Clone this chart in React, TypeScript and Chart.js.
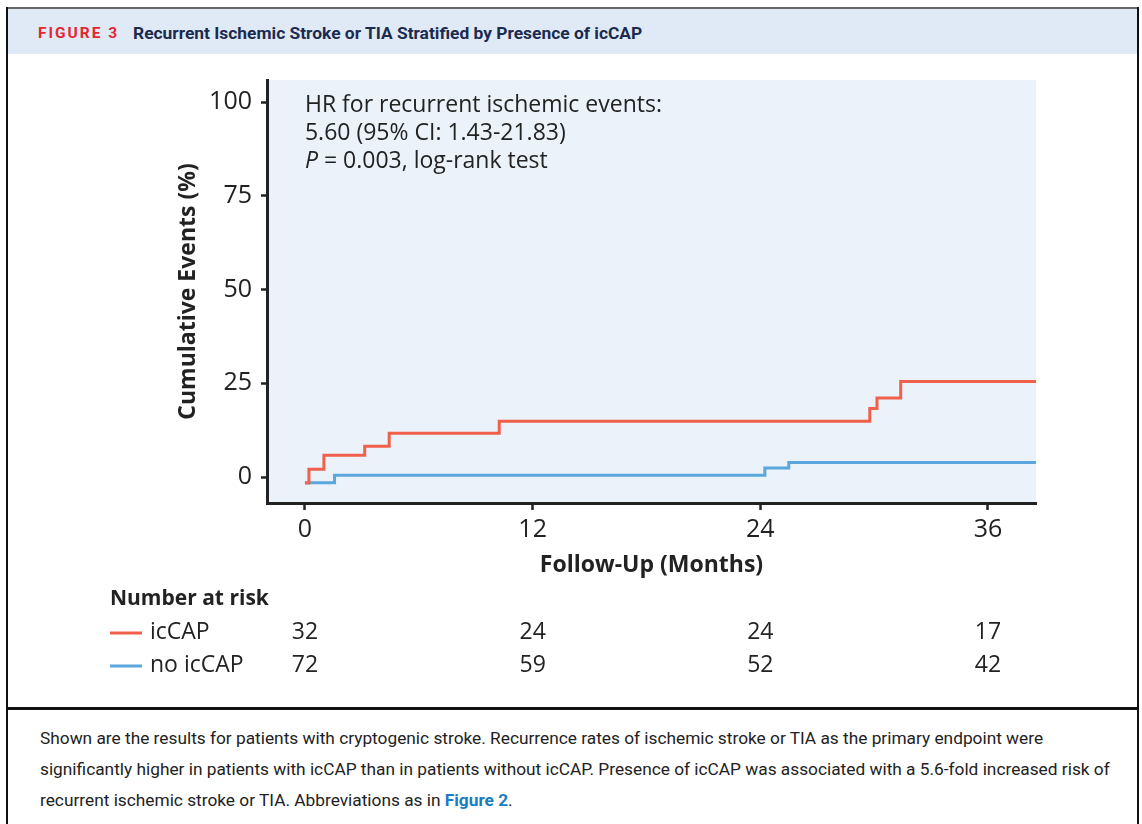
import React, { useEffect, useRef } from "react";
import { Chart, registerables } from "chart.js";

Chart.register(...registerables);

// ---------- data ----------
const xTicks = [0, 12, 24, 36];
const yTicks = [0, 25, 50, 75, 100];
const icCapTimes = [0, 0.21, 1.0, 3.15, 4.44, 10.24, 29.77, 30.15, 31.4, 38.53];
const icCapValues = [-1.6, 2.05, 5.8, 8.2, 11.65, 14.85, 18.3, 21.1, 25.5, 25.5];
const noIcCapTimes = [0, 1.56, 24.24, 25.5, 38.53];
const noIcCapValues = [-1.5, 0.45, 2.4, 3.9, 3.9];
const riskTimes = [0, 12, 24, 36];
const riskIcCap = [32, 24, 24, 17];
const riskNoIcCap = [72, 59, 52, 42];
const seriesNames = ["icCAP", "no icCAP"];
const annotationLine1 = "HR for recurrent ischemic events:";
const annotationLine2 = "5.60 (95% CI: 1.43-21.83)";
const annotationLine3a = "P";
const annotationLine3b = " = 0.003, log-rank test";

const RED = "#f0604a";
const BLUE = "#5ba6dc";
const INK = "#222222";
const FONT = "'Open Sans', 'Noto Sans', sans-serif";

const toPoints = (xs: number[], ys: number[]) => xs.map((x, i) => ({ x, y: ys[i] }));

const bgPlugin = {
  id: "plotBg",
  beforeDraw(chart: any) {
    const { ctx, chartArea } = chart;
    ctx.save();
    ctx.fillStyle = "#ebf2fa";
    ctx.fillRect(chartArea.left, chartArea.top, chartArea.right - chartArea.left, chartArea.bottom - chartArea.top);
    ctx.restore();
  },
};

const textPlugin = {
  id: "texts",
  afterDraw(chart: any) {
    const { ctx, chartArea } = chart;
    const xs = chart.scales.x;
    ctx.save();
    ctx.fillStyle = INK;
    ctx.textBaseline = "middle";
    ctx.textAlign = "left";
    // annotation
    const ax = xs.getPixelForValue(0);
    const ay = chartArea.top + 25;
    ctx.font = `23px ${FONT}`;
    ctx.fillText(annotationLine1, ax, ay);
    ctx.fillText(annotationLine2, ax, ay + 28);
    ctx.font = `italic 23px ${FONT}`;
    ctx.fillText(annotationLine3a, ax, ay + 56);
    const pw = ctx.measureText(annotationLine3a).width;
    ctx.font = `23px ${FONT}`;
    ctx.fillText(annotationLine3b, ax + pw, ay + 56);

    // number at risk table
    const tLeft = 110;
    const headY = 549;
    const rowYs = [582, 615];
    ctx.font = `bold 21px ${FONT}`;
    ctx.fillText("Number at risk", tLeft, headY);
    const colors = [RED, BLUE];
    const rows = [riskIcCap, riskNoIcCap];
    rows.forEach((row, r) => {
      const y = rowYs[r];
      ctx.strokeStyle = colors[r];
      ctx.lineWidth = 3;
      ctx.beginPath();
      ctx.moveTo(tLeft, y + 1);
      ctx.lineTo(tLeft + 32, y + 1);
      ctx.stroke();
      ctx.fillStyle = INK;
      ctx.textAlign = "left";
      ctx.font = `23px ${FONT}`;
      ctx.fillText(seriesNames[r], tLeft + 40, y);
      ctx.textAlign = "center";
      row.forEach((v, i) => {
        ctx.fillText(String(v), xs.getPixelForValue(riskTimes[i]), y);
      });
    });
    ctx.restore();
  },
};

function KMChart() {
  const ref = useRef<HTMLCanvasElement | null>(null);
  useEffect(() => {
    if (!ref.current) return;
    const chart = new Chart(ref.current, {
      type: "line",
      data: {
        datasets: [
          {
            label: seriesNames[0],
            data: toPoints(icCapTimes, icCapValues),
            borderColor: RED,
            borderWidth: 3,
            stepped: "before",
            pointRadius: 0,
            fill: false,
          },
          {
            label: seriesNames[1],
            data: toPoints(noIcCapTimes, noIcCapValues),
            borderColor: BLUE,
            borderWidth: 3,
            stepped: "before",
            pointRadius: 0,
            fill: false,
          },
        ],
      },
      options: {
        animation: false,
        responsive: false,
        maintainAspectRatio: false,
        layout: { padding: { left: 175, right: 106, top: 30, bottom: 117 } },
        plugins: { legend: { display: false }, tooltip: { enabled: false } },
        scales: {
          x: {
            type: "linear",
            min: -2.0,
            max: 38.53,
            afterBuildTicks: (s: any) => {
              s.ticks = xTicks.map((v) => ({ value: v }));
            },
            afterFit: (s: any) => {
              s.height = 80;
            },
            border: { display: true, color: INK, width: 3 },
            grid: { display: true, drawOnChartArea: false, drawTicks: true, tickLength: 7, tickWidth: 2.5, tickColor: INK },
            ticks: { color: INK, font: { family: FONT, size: 25 }, padding: 5, maxRotation: 0, autoSkip: false },
            title: {
              display: true,
              text: "Follow-Up (Months)",
              color: INK,
              font: { family: FONT, size: 23, weight: "bold" },
              padding: { top: 0, bottom: 4 },
            },
          },
          y: {
            type: "linear",
            min: -6.93,
            max: 105.87,
            afterBuildTicks: (s: any) => {
              s.ticks = yTicks.map((v) => ({ value: v }));
            },
            afterFit: (s: any) => {
              s.width = 92;
            },
            border: { display: true, color: INK, width: 3 },
            grid: { display: true, drawOnChartArea: false, drawTicks: true, tickLength: 6, tickWidth: 2.5, tickColor: INK },
            ticks: { color: INK, font: { family: FONT, size: 25 }, padding: 9, autoSkip: false },
            title: {
              display: true,
              text: "Cumulative Events (%)",
              color: INK,
              font: { family: FONT, size: 23, weight: "bold" },
              padding: { top: 0, bottom: 0 },
            },
          },
        },
      },
      plugins: [bgPlugin, textPlugin],
    });
    return () => chart.destroy();
  }, []);
  return (
    <canvas
      ref={ref}
      width={1142}
      height={650}
      style={{ position: "absolute", left: 0, top: 50, width: 1142, height: 650 }}
    />
  );
}

export default function App() {
  const capFont = "Roboto, 'Noto Sans', sans-serif";
  return (
    <div
      style={{
        position: "absolute",
        left: 0,
        top: 0,
        width: 1142,
        height: 824,
        background: "#ffffff",
        overflow: "hidden",
        fontFamily: capFont,
      }}
    >
      {/* header band */}
      <div style={{ position: "absolute", left: 8, top: 8, width: 1129, height: 46, background: "#dfeaf6" }} />
      {/* borders */}
      <div style={{ position: "absolute", left: 6, top: 7, width: 1133, height: 1.5, background: "#666" }} />
      <div style={{ position: "absolute", left: 6, top: 7, width: 2, height: 817, background: "#111" }} />
      <div style={{ position: "absolute", left: 1137, top: 7, width: 2, height: 817, background: "#111" }} />
      <div style={{ position: "absolute", left: 6, top: 707, width: 1133, height: 2.5, background: "#111" }} />
      {/* title */}
      <div
        style={{
          position: "absolute",
          left: 38,
          top: 21,
          height: 24,
          lineHeight: "24px",
          whiteSpace: "nowrap",
        }}
      >
        <span style={{ color: "#e5262f", fontWeight: 700, fontSize: 15.5, letterSpacing: 2 }}>FIGURE 3</span>
        <span
          style={{
            position: "absolute",
            left: 95,
            top: 0,
            color: "#1c2a50",
            fontWeight: 700,
            fontSize: 17.4,
          }}
        >
          Recurrent Ischemic Stroke or TIA Stratified by Presence of icCAP
        </span>
      </div>
      <KMChart />
      {/* caption */}
      <div
        style={{
          position: "absolute",
          left: 40,
          top: 723,
          fontSize: 17.3,
          lineHeight: "31px",
          color: "#222",
          whiteSpace: "nowrap",
        }}
      >
        Shown are the results for patients with cryptogenic stroke. Recurrence rates of ischemic stroke or TIA as the primary endpoint were
        <br />
        significantly higher in patients with icCAP than in patients without icCAP. Presence of icCAP was associated with a 5.6-fold increased risk of
        <br />
        recurrent ischemic stroke or TIA. Abbreviations as in{" "}
        <span style={{ color: "#1b7dc0", fontWeight: 700 }}>Figure 2</span>.
      </div>
    </div>
  );
}
